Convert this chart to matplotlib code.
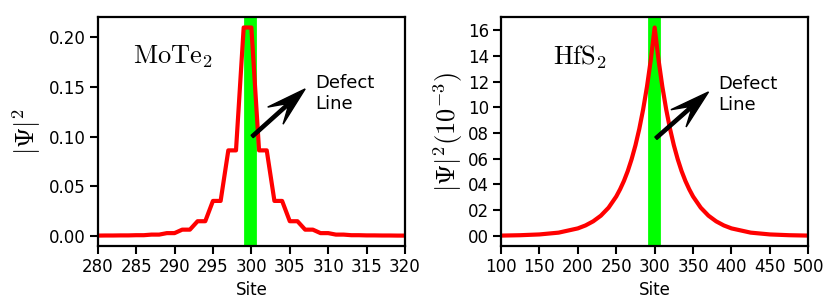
import matplotlib
matplotlib.use("Agg")
import matplotlib.pyplot as plt
from matplotlib.patches import FancyArrow
from matplotlib.transforms import IdentityTransform
from matplotlib.ticker import FormatStrFormatter

plt.rcParams['mathtext.fontset'] = 'cm'
plt.rcParams['font.family'] = 'DejaVu Sans'

# MoTe2: |Psi|^2 per site (step-like pairs)
mote2_sites = list(range(280, 321))
mote2_psi = [0.0, 0.0001, 0.0001, 0.0002, 0.0002, 0.0004, 0.0004, 0.001, 0.001, 0.0025,
             0.0025, 0.006, 0.006, 0.0145, 0.0145, 0.035, 0.035, 0.086, 0.086, 0.21,
             0.21, 0.086, 0.086, 0.035, 0.035, 0.0145, 0.0145, 0.006, 0.006, 0.0025,
             0.0025, 0.001, 0.001, 0.0004, 0.0004, 0.0002, 0.0002, 0.0001, 0.0001, 0.0,
             0.0]

# HfS2: |Psi|^2 in units of 1e-3
hfs2_sites = [100, 125, 150, 175, 200, 210, 220, 230, 240, 250, 255, 260, 265, 270, 275,
              280, 285, 290, 295, 300, 305, 310, 315, 320, 325, 330, 335, 340, 345, 350,
              360, 370, 380, 390, 400, 425, 450, 475, 500]
hfs2_psi = [0.02, 0.05, 0.11, 0.25, 0.58, 0.81, 1.13, 1.57, 2.19, 3.06, 3.62, 4.27, 5.04,
            5.96, 7.04, 8.32, 9.83, 11.6, 13.7, 16.2, 13.7, 11.6, 9.83, 8.32, 7.04, 5.96,
            5.04, 4.27, 3.62, 3.06, 2.19, 1.57, 1.13, 0.81, 0.58, 0.25, 0.11, 0.05, 0.02]

fig = plt.figure(figsize=(8.3, 3.0), dpi=100)
ax1 = fig.add_axes([0.1177, 0.18, 0.3703, 0.763])
ax2 = fig.add_axes([0.6036, 0.18, 0.3703, 0.763])


def style(ax):
    for s in ax.spines.values():
        s.set_linewidth(1.6)
    ax.tick_params(direction='out', length=5.5, width=1.5, labelsize=12, pad=3,
                   top=False, right=False)


def barbed_arrow(ax, tail, tip):
    # notched arrow head drawn in pixel space so the shape is not stretched
    ax.autoscale_view()
    x0, y0 = ax.transData.transform(tail)
    x1, y1 = ax.transData.transform(tip)
    arr = FancyArrow(x0, y0, x1 - x0, y1 - y0, width=3.2, head_width=23,
                     head_length=40, overhang=0.4, length_includes_head=True,
                     color='black', transform=IdentityTransform(), clip_on=False,
                     zorder=3)
    ax.add_artist(arr)


# left panel
ax1.axvline(299.8, color='#00ff00', lw=9.2, zorder=1)
ax1.plot(mote2_sites, mote2_psi, color='#ff0000', lw=3, zorder=2)
ax1.set_xlim(280, 320)
ax1.set_xticks(range(280, 321, 5))
ax1.set_yticks([0.0, 0.05, 0.10, 0.15, 0.20])
ax1.yaxis.set_major_formatter(FormatStrFormatter('%.2f'))
ax1.set_xlabel('Site', fontsize=12)
ax1.set_ylabel(r'$|\Psi|^2$', fontsize=19)
ax1.text(284.6, 0.174, r'$\mathrm{MoTe_2}$', fontsize=19)
ax1.text(308.3, 0.163, 'Defect\nLine', fontsize=13, va='top', linespacing=1.2)
style(ax1)

# right panel
ax2.axvline(298.5, color='#00ff00', lw=9.2, zorder=1)
ax2.plot(hfs2_sites, hfs2_psi, color='#ff0000', lw=3, zorder=2)
ax2.set_xlim(100, 500)
ax2.set_xticks(range(100, 501, 50))
ax2.set_yticks(range(0, 17, 2))
ax2.yaxis.set_major_formatter(FormatStrFormatter('%02d'))
ax2.set_xlabel('Site', fontsize=12)
ax2.set_ylabel(r'$|\Psi|^2(10^{-3})$', fontsize=19, labelpad=2)
ax2.text(167.8, 13.3, r'$\mathrm{HfS_2}$', fontsize=19)
ax2.text(383, 12.5, 'Defect\nLine', fontsize=13, va='top', linespacing=1.2)
style(ax2)

barbed_arrow(ax1, (300.1, 0.100), (307.0, 0.148))
barbed_arrow(ax2, (301.6, 7.59), (370.1, 11.19))

fig.savefig('out.png', dpi=100)
